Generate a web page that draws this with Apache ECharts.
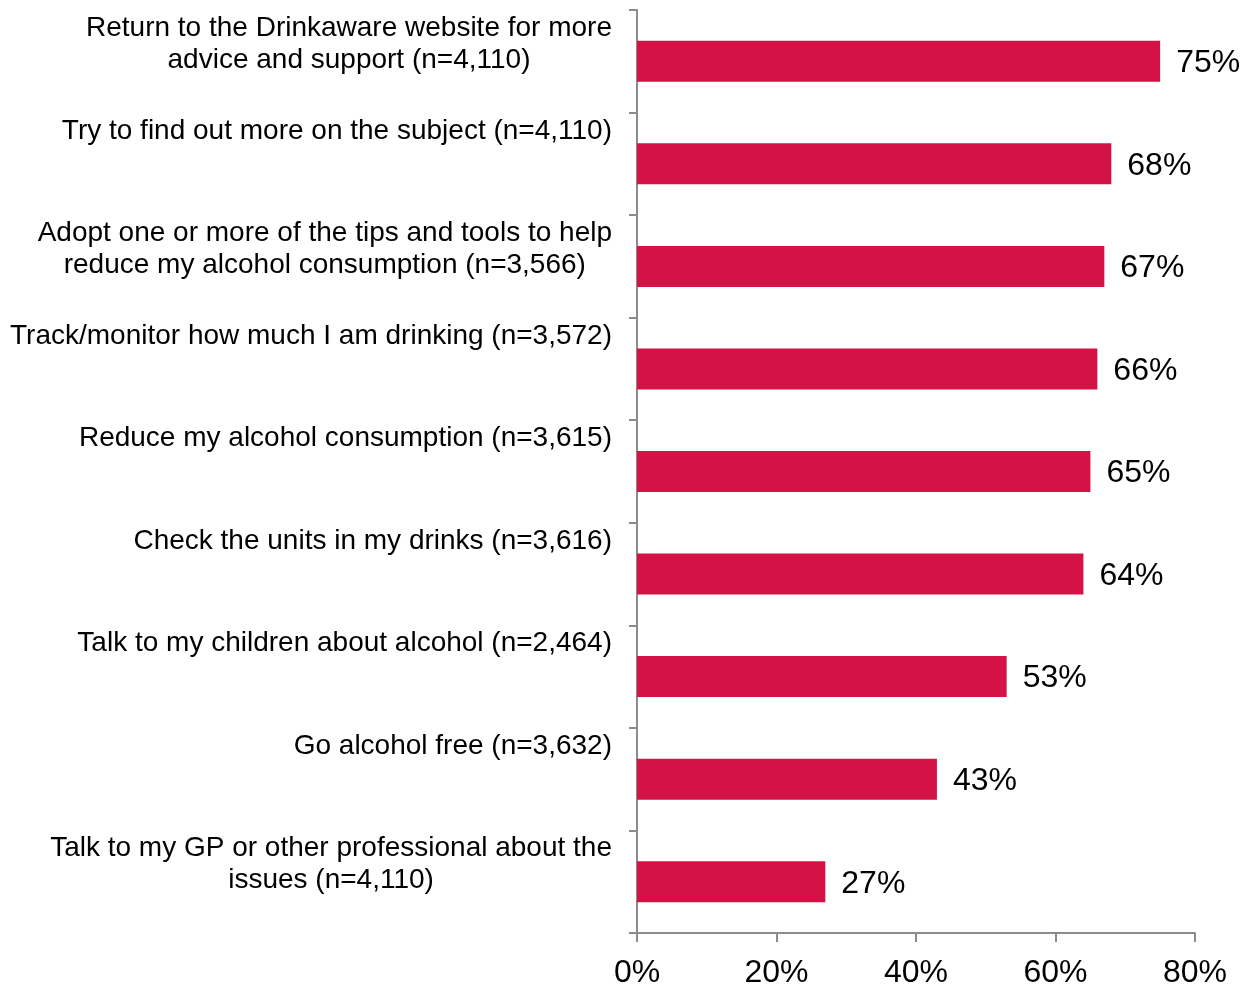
<!DOCTYPE html>
<html>
<head>
<meta charset="utf-8">
<script src="https://cdn.jsdelivr.net/npm/echarts@6/dist/echarts.min.js"></script>
<style>
  html, body { margin: 0; padding: 0; background: #ffffff; }
  #chart { width: 1252px; height: 987px; }
</style>
</head>
<body>
<div id="chart"></div>
<script>
// Intended actions after visiting, top to bottom
const categories = [
  'Return to the Drinkaware website for more\nadvice and support (n=4,110)',
  'Try to find out more on the subject (n=4,110)',
  'Adopt one or more of the tips and tools to help\nreduce my alcohol consumption (n=3,566)',
  'Track/monitor how much I am drinking (n=3,572)',
  'Reduce my alcohol consumption (n=3,615)',
  'Check the units in my drinks (n=3,616)',
  'Talk to my children about alcohol (n=2,464)',
  'Go alcohol free (n=3,632)',
  'Talk to my GP or other professional about the\nissues (n=4,110)'
];
const values = [75, 68, 67, 66, 65, 64, 53, 43, 27];
const xTicks = [0, 20, 40, 60, 80];

const FONT = "'Liberation Sans', Arial, sans-serif";
const BAR_COLOR = '#D41245';
const AXIS_COLOR = '#8C8C8C';

const chart = echarts.init(document.getElementById('chart'), null, { renderer: 'canvas' });

chart.setOption({
  animation: false,
  backgroundColor: '#ffffff',
  grid: {
    left: 637, right: 57, top: 10, bottom: 54,
    containLabel: false,
    outerBoundsMode: 'none'
  },
  xAxis: {
    type: 'value',
    min: xTicks[0],
    max: xTicks[xTicks.length - 1],
    interval: xTicks[1] - xTicks[0],
    axisLine: { show: true, lineStyle: { color: AXIS_COLOR, width: 2 } },
    axisTick: { show: true, length: 9, lineStyle: { color: AXIS_COLOR, width: 2 } },
    splitLine: { show: false },
    axisLabel: {
      formatter: v => v + '%',
      color: '#000000',
      fontFamily: FONT,
      fontSize: 32,
      margin: 24
    }
  },
  yAxis: {
    type: 'category',
    inverse: true,
    data: categories,
    axisLine: { show: true, lineStyle: { color: AXIS_COLOR, width: 2 } },
    axisTick: { show: true, length: 8, lineStyle: { color: AXIS_COLOR, width: 2 } },
    splitLine: { show: false },
    axisLabel: {
      interval: 0,
      margin: 25,
      color: '#000000',
      fontFamily: FONT,
      fontSize: 28,
      lineHeight: 32,
      verticalAlign: 'top',
      padding: [-49, 0, 0, 0],
      formatter: v => v.split('\n').map(line => '{c|' + line + '}').join('\n'),
      rich: {
        c: {
          align: 'center',
          color: '#000000',
          fontFamily: FONT,
          fontSize: 28,
          lineHeight: 32
        }
      }
    }
  },
  series: [{
    type: 'bar',
    data: values,
    barWidth: '40%',
    itemStyle: { color: BAR_COLOR },
    label: {
      show: true,
      position: 'right',
      distance: 16,
      offset: [0, 2],
      formatter: p => p.value + '%',
      color: '#000000',
      fontFamily: FONT,
      fontSize: 32
    }
  }]
});
</script>
</body>
</html>
